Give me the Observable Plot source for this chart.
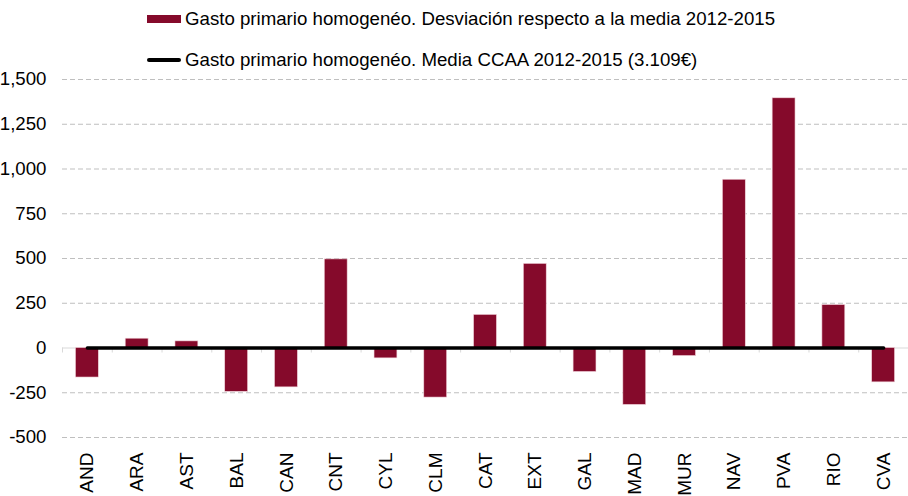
<!DOCTYPE html>
<html><head><meta charset="utf-8">
<script src="https://cdn.jsdelivr.net/npm/d3@7"></script>
<script src="https://cdn.jsdelivr.net/npm/@observablehq/plot@0.6"></script>
<style>
body{margin:0;background:#fff;font-family:"Liberation Sans",Arial,sans-serif;}
#wrap{position:relative;width:908px;height:496px;overflow:hidden;}
.leg{position:absolute;left:147px;height:20px;font-size:18.67px;color:#000;display:flex;align-items:center;white-space:nowrap;}
.sw{width:34px;height:8px;background:#850A2B;margin-right:4px;}
.ln{width:34px;height:3.5px;background:#000;border-radius:2px;margin-right:4px;}
</style>
</head><body>
<div id="wrap">
  <div class="leg" style="top:9px"><span class="sw"></span><span>Gasto primario homogenéo. Desviación respecto a la media 2012-2015</span></div>
  <div class="leg" style="top:50px"><span class="ln"></span><span>Gasto primario homogenéo. Media CCAA 2012-2015 (3.109€)</span></div>
</div>
<script>
const categories = ["AND","ARA","AST","BAL","CAN","CNT","CYL","CLM","CAT","EXT","GAL","MAD","MUR","NAV","PVA","RIO","CVA"];
const deviation = [-165, 52, 37, -245, -220, 495, -58, -277, 185, 470, -134, -318, -45, 940, 1395, 240, -192];
const mediaLine = [0,0,0,0,0,0,0,0,0,0,0,0,0,0,0,0,0];
const yTicks = [-500,-250,0,250,500,750,1000,1250,1500];

const data = categories.map((c,i)=>({region:c, value:deviation[i], media:mediaLine[i]}));
const fmt = d => d3.format(",")(d).replace("\u2212","-");

const chart = Plot.plot({
  width: 908, height: 496,
  marginTop: 79, marginBottom: 59, marginLeft: 62, marginRight: 0,
  style: {fontFamily: "'Liberation Sans', Arial, sans-serif", fontSize: "18.67px", color: "#000", background: "#fff", overflow: "visible"},
  x: {domain: categories, paddingInner: 0.54, paddingOuter: 0.27, round: false, label: null},
  y: {domain: [-500, 1500], label: null},
  marks: [
    Plot.ruleY(yTicks.filter(d => d !== 0), {stroke: "#bfbfbf", strokeDasharray: "5,3", strokeWidth: 1}),
    Plot.ruleY([0], {stroke: "#d9d9d9", strokeWidth: 1}),
    Plot.ruleX(categories, {x: d => d, y1: 0, y2: -28, dx: -24.88, stroke: "#d9d9d9"}),
    Plot.barY(data, {x: "region", y: "value", fill: "#850A2B", stroke: "#f2d5dc", strokeWidth: 0.6}),
    Plot.lineY(data, {x: "region", y: "media", stroke: "#000", strokeWidth: 3.5}),
    Plot.axisY({ticks: yTicks, tickFormat: fmt, tickSize: 0, tickPadding: 16}),
    Plot.axisX({tickRotate: -90, tickSize: 0, tickPadding: 15, fontSize: "19px"})
  ]
});
document.getElementById("wrap").prepend(chart);
</script>
</body></html>
